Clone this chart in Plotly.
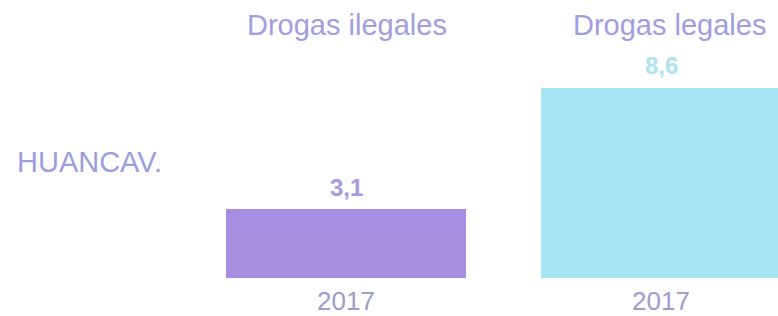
import plotly.graph_objects as go

# ---- data ----
region = "HUANCAV."
panel_titles = ["Drogas ilegales", "Drogas legales"]
years = ["2017"]
ilegales = [3.1]
legales = [8.6]

W, H = 778, 316
T, B = 57, 38
FONT = "Liberation Sans, Arial, sans-serif"
purple = "#a68fe1"
cyan = "#a8e5f3"
title_col = "#a29ddf"
tick_col = "#a09bc9"


def px(x):
    return x / W


def py(y):
    return (H - B - y) / (H - T - B)


fig = go.Figure()
fig.add_trace(go.Bar(x=years, y=ilegales, marker=dict(color=purple, line=dict(width=0)),
                     width=0.755, xaxis="x", yaxis="y", showlegend=False,
                     hoverinfo="skip"))
fig.add_trace(go.Bar(x=years, y=legales, marker=dict(color=cyan, line=dict(width=0)),
                     width=0.755, xaxis="x2", yaxis="y2", showlegend=False,
                     hoverinfo="skip"))

# value labels above bars
for xr, yr, vals, col in [("x", "y", ilegales, "#a79ade"), ("x2", "y2", legales, "#ade3ef")]:
    for i, v in enumerate(vals):
        fig.add_annotation(x=i, y=v, xref=xr, yref=yr, text=f"{v:.1f}".replace(".", ","),
                           showarrow=False, yanchor="middle", yshift=22,
                           font=dict(family=FONT, size=24, color=col, weight="bold"))

# panel titles
for i, t in enumerate(panel_titles):
    fig.add_annotation(x=px([347, 669][i]), y=py(25), xref="paper", yref="paper",
                       text=t, showarrow=False, xanchor="center", yanchor="middle",
                       font=dict(family=FONT, size=29, color=title_col))

# region label
fig.add_annotation(x=px(15), y=py(162), xref="paper", yref="paper", text=region,
                   showarrow=False, xanchor="left", yanchor="middle",
                   font=dict(family=FONT, size=29, color="#9c9ddf"))

axis_common = dict(type="category", showgrid=False, zeroline=False, showline=False, ticks="",
                   ticklabelstandoff=5,
                   tickfont=dict(family=FONT, size=26, color=tick_col), fixedrange=True)
fig.update_layout(
    width=W, height=H,
    margin=dict(l=0, r=0, t=T, b=B),
    paper_bgcolor="white", plot_bgcolor="white",
    xaxis=dict(domain=[px(187), px(505)], range=[-0.5, 0.5], anchor="y", **axis_common),
    xaxis2=dict(domain=[px(507), 1.0], range=[-(661 - 507) / 318, (778 - 661) / 318],
                anchor="y2", **axis_common),
    yaxis=dict(range=[0, 10], visible=False, fixedrange=True),
    yaxis2=dict(range=[0, 10], visible=False, anchor="x2", fixedrange=True),
    bargap=0,
)

fig.write_html("out.html", config={"displayModeBar": False},
               post_script="document.body.style.margin='0px';")
